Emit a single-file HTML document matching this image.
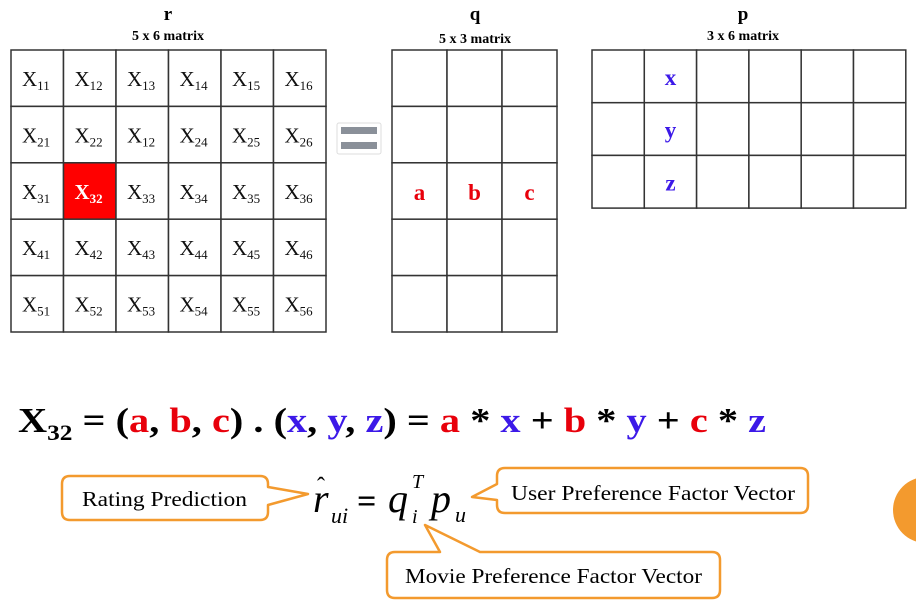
<!DOCTYPE html>
<html><head><meta charset="utf-8"><style>
html,body{margin:0;padding:0;background:#fff;width:916px;height:604px;overflow:hidden}
svg{display:block}
text{font-family:"Liberation Serif",serif}
</style></head><body>
<svg width="916" height="604" viewBox="0 0 916 604">
<g id="rg"></g>
<g id="qg"></g>
<g id="pg"></g>
<text x="168" y="20" text-anchor="middle" font-weight="bold" font-size="19">r</text>
<text x="168" y="40" text-anchor="middle" font-weight="bold" font-size="14">5 x 6 matrix</text>
<text x="475" y="20" text-anchor="middle" font-weight="bold" font-size="19">q</text>
<text x="475" y="43" text-anchor="middle" font-weight="bold" font-size="14">5 x 3 matrix</text>
<text x="743" y="20" text-anchor="middle" font-weight="bold" font-size="19">p</text>
<text x="743" y="40" text-anchor="middle" font-weight="bold" font-size="14">3 x 6 matrix</text>
<g>
<rect x="337" y="123" width="44" height="31" rx="2" fill="#fff" stroke="#ddd"/>
<rect x="341" y="127" width="36" height="7" fill="#8a9099"/>
<rect x="341" y="142" width="36" height="7" fill="#8a9099"/>
</g>
<text x="18" y="432" font-weight="bold" font-size="35" textLength="748" lengthAdjust="spacingAndGlyphs">X<tspan font-size="22" dy="8">32</tspan><tspan dy="-8"> = (</tspan><tspan fill="#e8000b">a</tspan>, <tspan fill="#e8000b">b</tspan>, <tspan fill="#e8000b">c</tspan>) . (<tspan fill="#3c19e8">x</tspan>, <tspan fill="#3c19e8">y</tspan>, <tspan fill="#3c19e8">z</tspan>) = <tspan fill="#e8000b">a</tspan> * <tspan fill="#3c19e8">x</tspan> + <tspan fill="#e8000b">b</tspan> * <tspan fill="#3c19e8">y</tspan> + <tspan fill="#e8000b">c</tspan> * <tspan fill="#3c19e8">z</tspan></text>
<g font-style="italic">
<text x="313" y="512" font-size="40">r</text>
<text x="317" y="494" font-size="24" font-style="normal">ˆ</text>
<text x="331" y="523" font-size="22">ui</text>
<text x="357" y="512" font-size="34" font-style="normal" font-weight="bold">=</text>
<text x="388" y="512" font-size="40">q</text>
<text x="412" y="488" font-size="20">T</text>
<text x="412" y="523" font-size="20">i</text>
<text x="431" y="512" font-size="40">p</text>
<text x="455" y="522" font-size="22">u</text>
</g>
<g fill="#fff" stroke="#f39a2e" stroke-width="2.5" stroke-linejoin="round">
<path d="M70 476 H260 Q268 476 268 484 V487 L308 494 L268 505 V512 Q268 520 260 520 H70 Q62 520 62 512 V484 Q62 476 70 476 Z"/>
<path d="M505 468 H800 Q808 468 808 476 V505 Q808 513 800 513 H505 Q497 513 497 505 V500 L472 497 L497 484 V476 Q497 468 505 468 Z"/>
<path d="M395 552 H440 L425 525 L480 552 H712 Q720 552 720 560 V590 Q720 598 712 598 H395 Q387 598 387 590 V560 Q387 552 395 552 Z"/>
</g>
<text x="82" y="506" font-size="21" textLength="165" lengthAdjust="spacingAndGlyphs">Rating Prediction</text>
<text x="511" y="500" font-size="21" textLength="284" lengthAdjust="spacingAndGlyphs">User Preference Factor Vector</text>
<text x="405" y="583" font-size="21" textLength="297" lengthAdjust="spacingAndGlyphs">Movie Preference Factor Vector</text>
<circle cx="926" cy="510" r="33" fill="#f39a2e"/>
</svg>
<script>
const ns="http://www.w3.org/2000/svg";
const rRows=5, rCols=6;
const subs=[["11","12","13","14","15","16"],["21","22","12","24","25","26"],["31","32","33","34","35","36"],["41","42","43","44","45","46"],["51","52","53","54","55","56"]];
const qLetters=["a","b","c"];
const pLetters=["x","y","z"];
function mk(tag,attrs,parent){const e=document.createElementNS(ns,tag);for(const k in attrs)e.setAttribute(k,attrs[k]);parent.appendChild(e);return e;}
const rg=document.getElementById('rg'),qg=document.getElementById('qg'),pg=document.getElementById('pg');
const rx=11,ry=50,rw=52.5,rh=56.4;
for(let i=0;i<rRows;i++)for(let j=0;j<rCols;j++){
 const hl=(i===2&&j===1);
 const c=mk('rect',{x:rx+j*rw,y:ry+i*rh,width:rw,height:rh,fill:hl?'#ff0000':'#fff',stroke:'#333','stroke-width':1.5},rg);
 
 
 const t=mk('text',{x:rx+j*rw+11,y:ry+i*rh+36,'font-size':21,fill:hl?'#fff':'#111','font-weight':hl?'bold':'normal'},rg);
 
 
 t.textContent='X';
 const s=mk('tspan',{'font-size':13,dy:4},t);s.textContent=subs[i][j];
}
const qx=392,qy=50,qw=55,qh=56.4;
for(let i=0;i<5;i++)for(let j=0;j<3;j++){
 const c=mk('rect',{x:qx+j*qw,y:qy+i*qh,width:qw,height:qh,fill:'#fff',stroke:'#333','stroke-width':1.5},qg);
 
 
 if(i===2){const t=mk('text',{x:qx+j*qw+qw/2,y:qy+i*qh+37,'font-size':23,'font-weight':'bold',fill:'#e8000b','text-anchor':'middle'},qg);
 
 
 t.textContent=qLetters[j];}
}
const px=592,py=50,pw=52.3,ph=52.7;
for(let i=0;i<3;i++)for(let j=0;j<6;j++){
 const c=mk('rect',{x:px+j*pw,y:py+i*ph,width:pw,height:ph,fill:'#fff',stroke:'#333','stroke-width':1.5},pg);
 
 
 if(j===1){const t=mk('text',{x:px+j*pw+pw/2,y:py+i*ph+35,'font-size':23,'font-weight':'bold',fill:'#3c19e8','text-anchor':'middle'},pg);
 
 
 t.textContent=pLetters[i];}
}
</script>
</body></html>
